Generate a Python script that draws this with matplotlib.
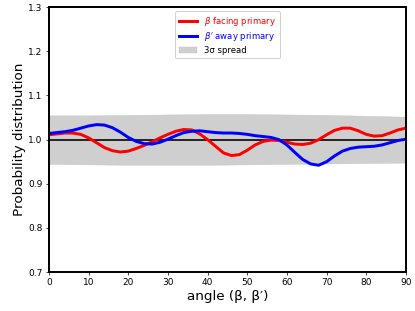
import numpy as np
import matplotlib
matplotlib.use("Agg")
import matplotlib.pyplot as plt

# angle grid (degrees) the curves were read on
angle = list(range(0, 91, 2))

beta_facing = [1.011, 1.013, 1.015, 1.015, 1.012, 1.004, 0.993, 0.982, 0.975, 0.972,
               0.974, 0.980, 0.987, 0.995, 1.004, 1.012, 1.019, 1.023, 1.022, 1.013,
               1.000, 0.985, 0.970, 0.964, 0.966, 0.976, 0.988, 0.996, 0.999, 0.998,
               0.994, 0.990, 0.989, 0.992, 1.000, 1.011, 1.021, 1.026, 1.026, 1.020,
               1.012, 1.008, 1.009, 1.015, 1.022, 1.026]

beta_away = [1.014, 1.016, 1.018, 1.021, 1.026, 1.031, 1.034, 1.033, 1.027, 1.017,
             1.005, 0.996, 0.991, 0.990, 0.994, 1.001, 1.009, 1.016, 1.019, 1.020,
             1.018, 1.016, 1.015, 1.015, 1.014, 1.012, 1.009, 1.007, 1.005, 1.000,
             0.988, 0.971, 0.955, 0.945, 0.942, 0.950, 0.963, 0.974, 0.980, 0.983,
             0.984, 0.985, 0.988, 0.993, 0.998, 1.001]

# 3-sigma band
band_x = [0, 10, 20, 30, 40, 50, 60, 70, 80, 90]
band_hi = [1.055, 1.055, 1.056, 1.057, 1.058, 1.058, 1.057, 1.056, 1.054, 1.052]
band_lo = [0.945, 0.944, 0.943, 0.943, 0.943, 0.944, 0.945, 0.946, 0.947, 0.948]

DPI = 64.8
fig = plt.figure(figsize=(415 / DPI, 311 / DPI), dpi=DPI)
ax = fig.add_axes([0.118, 0.125, 0.860, 0.852])

ax.fill_between(band_x, band_lo, band_hi, color="0.75", alpha=0.75,
                linewidth=0.5, label="3σ spread")
ax.axhline(1.0, color="black", lw=1.8)
l1, = ax.plot(angle, beta_facing, color="red", lw=3.3, label=r"$\beta$ facing primary")
l2, = ax.plot(angle, beta_away, color="blue", lw=3.3, label=r"$\beta'$ away primary")

ax.set_xlim(0, 90)
ax.set_ylim(0.7, 1.3)
ax.set_xticks(range(0, 91, 10))
ax.set_yticks([0.7, 0.8, 0.9, 1.0, 1.1, 1.2, 1.3])
ax.tick_params(labelsize=10)
for s in ax.spines.values():
    s.set_linewidth(2.2)
ax.set_xlabel("angle (β, β′)", fontsize=15, labelpad=3)
ax.set_ylabel("Probability distribution", fontsize=15, labelpad=3)

handles = [l1, l2, ax.collections[0]]
leg = ax.legend(handles=handles, loc="upper center", fontsize=9.5,
                labelspacing=0.3, handlelength=2.2, framealpha=1.0)
for txt, col in zip(leg.get_texts(), ["red", "blue", "black"]):
    txt.set_color(col)

fig.savefig("out.png", dpi=DPI)
